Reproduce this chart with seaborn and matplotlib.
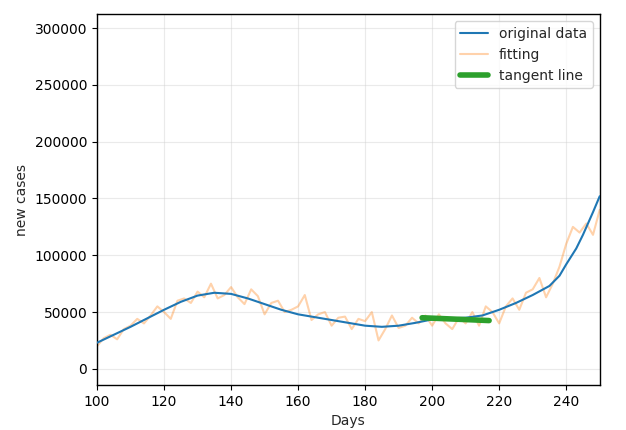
import matplotlib
matplotlib.use('Agg')
import matplotlib.pyplot as plt
import seaborn as sns
import numpy as np
import pandas as pd

# ── data ────────────────────────────────────────────────────────────────
smooth_days = [100, 105, 110, 115, 120, 125, 130, 135, 140, 145, 150, 155, 160,
               165, 170, 175, 180, 185, 190, 195, 200, 205, 210, 215, 220, 225,
               230, 235, 238, 240, 243, 245, 248, 250]
smooth_cases = [23000, 30000, 37000, 44500, 52000, 59000, 64500, 67000, 66000,
                62000, 57000, 52000, 48000, 45500, 43000, 40500, 38000, 37000,
                38000, 40500, 43500, 44500, 45000, 47000, 52000, 58000, 65000,
                73000, 82000, 92000, 106000, 118000, 138000, 152000]

noisy_days = list(range(100, 252, 2))
noisy_cases = [20000, 27000, 30000, 26000, 35000, 38000, 44000, 40000, 47000, 55000,
               50000, 44000, 60000, 62000, 58000, 68000, 63000, 75000, 62000, 65000,
               72000, 63000, 57000, 70000, 64000, 48000, 58000, 60000, 50000, 52000,
               55000, 65000, 43000, 48000, 50000, 38000, 45000, 46000, 35000, 44000,
               42000, 50000, 25000, 35000, 47000, 36000, 38000, 45000, 40000, 47000,
               38000, 48000, 40000, 35000, 45000, 40000, 50000, 38000, 55000, 50000,
               40000, 55000, 62000, 52000, 67000, 70000, 80000, 63000, 75000, 90000,
               110000, 125000, 120000, 128000, 118000, 140000]

tangent_days = [197, 217]
tangent_cases = [45000, 42500]

df_smooth = pd.DataFrame({'day': smooth_days, 'cases': smooth_cases})
df_noisy = pd.DataFrame({'day': noisy_days, 'cases': noisy_cases})
df_tan = pd.DataFrame({'day': tangent_days, 'cases': tangent_cases})

sns.set_style('ticks')
fig = plt.figure(figsize=(6.26, 4.30), dpi=100)
ax = fig.add_axes([0.155, 0.105, 0.803, 0.862])

sns.lineplot(data=df_smooth, x='day', y='cases', ax=ax, color='#1f77b4',
             linewidth=1.5, label='original data', zorder=3)
sns.lineplot(data=df_noisy, x='day', y='cases', ax=ax, color='#ff7f0e',
             alpha=0.35, linewidth=1.5, label='fitting', zorder=2)
sns.lineplot(data=df_tan, x='day', y='cases', ax=ax, color='#2ca02c',
             linewidth=4, label='tangent line', zorder=4)

ax.set_xlim(100, 250)
ax.set_ylim(-14100, 312300)
ax.set_yticks(np.arange(0, 300001, 50000))
ax.set_xticks(np.arange(100, 251, 20))
ax.grid(True, alpha=0.4)
for s in ax.spines.values():
    s.set_color('black')
    s.set_linewidth(1.0)
ax.tick_params(colors='black', labelsize=10)
ax.set_xlabel('Days', fontsize=10)
ax.set_ylabel('new cases', fontsize=10)
ax.legend(loc='upper right', fontsize=10)

fig.savefig('out.png', dpi=100)
